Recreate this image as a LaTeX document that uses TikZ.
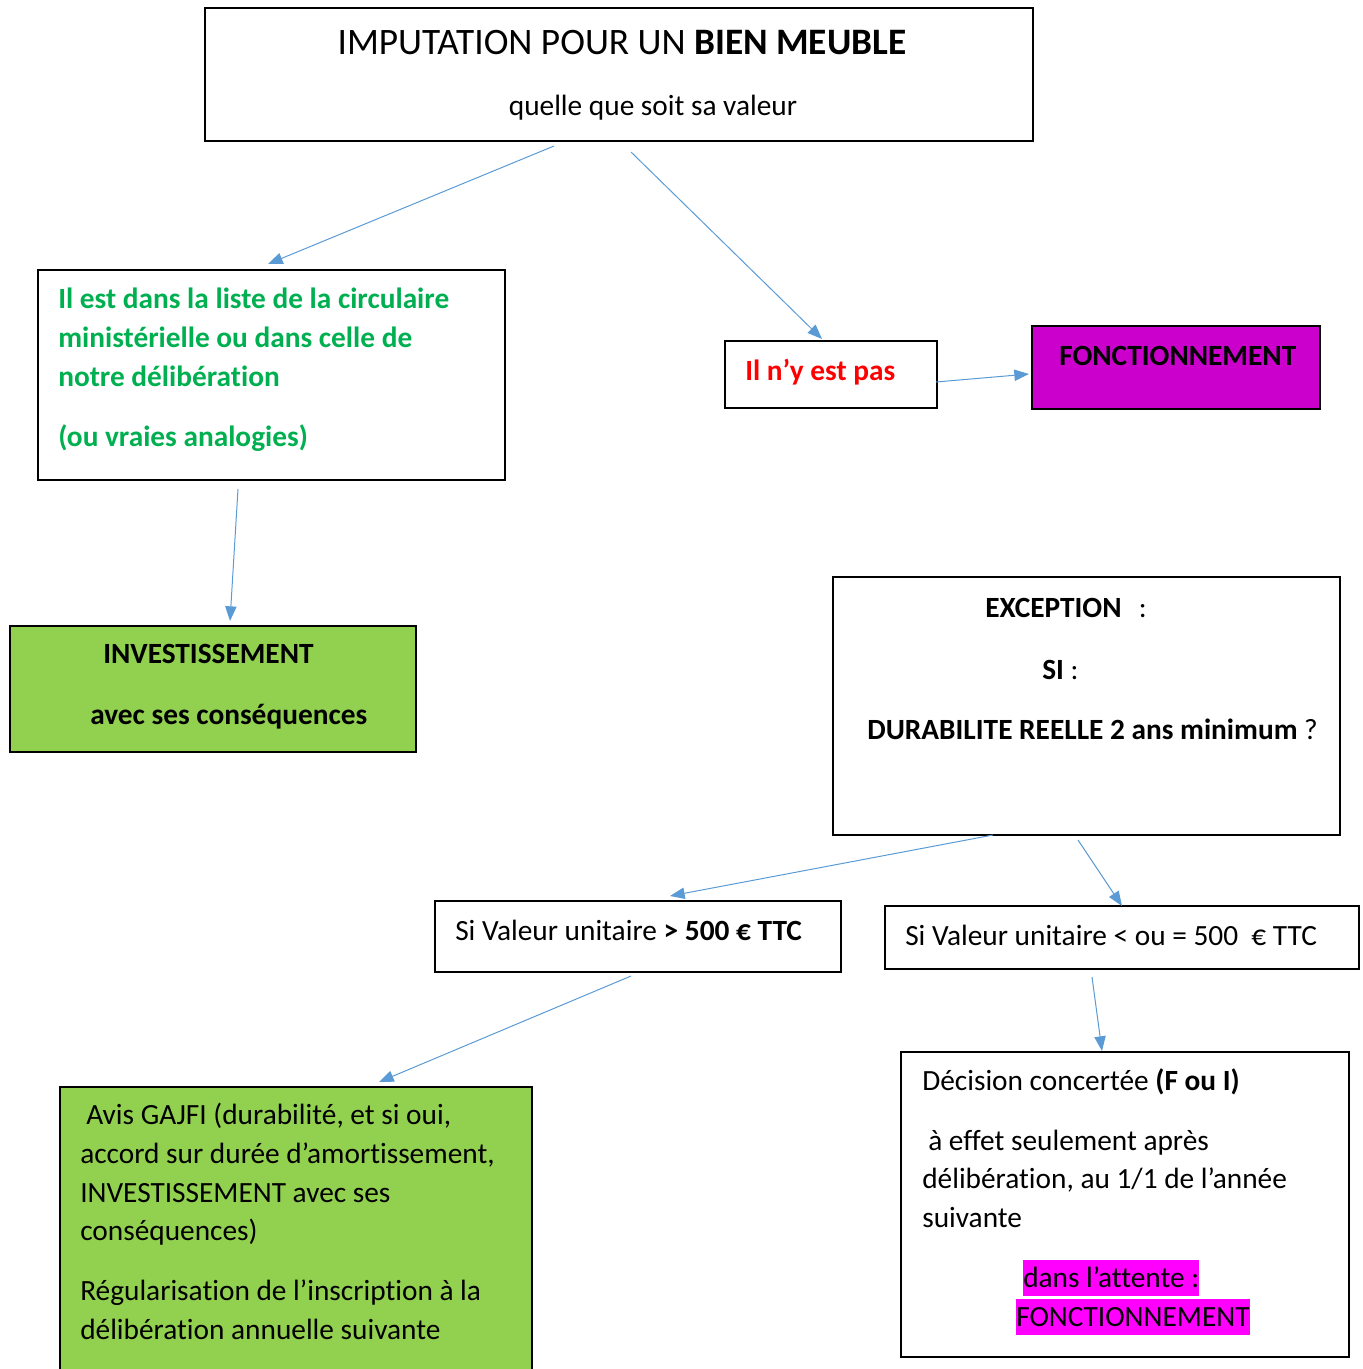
\documentclass[tikz,border=0pt]{standalone}
\usepackage{fontspec}
\setmainfont{Carlito}[Ligatures=NoCommon]
\usetikzlibrary{arrows.meta,fit}
\definecolor{arrblue}{HTML}{5B9BD5}
\definecolor{grn}{HTML}{00B050}
\definecolor{lgreen}{HTML}{92D050}
\definecolor{purp}{HTML}{CC00CC}
\definecolor{hilite}{HTML}{FF00FF}
\definecolor{redt}{HTML}{FF0000}
\tikzset{
  box/.style={draw=black, line width=0.9pt, inner sep=0pt},
  arr/.style={draw=arrblue, line width=0.75pt, -{Triangle[length=11pt,width=8.5pt]}},
  txt/.style={anchor=base west, inner sep=0pt, font=\fontsize{22}{27}\selectfont},
  btxt/.style={anchor=base west, inner sep=0pt, font=\fontsize{22}{27}\selectfont\bfseries},
  ctxt/.style={anchor=base, inner sep=0pt, font=\fontsize{22}{27}\selectfont},
  hl/.style={anchor=base west, inner sep=0pt, fill=hilite, text height=20.25pt, text depth=6.75pt, font=\fontsize{22}{27}\selectfont},
}
\begin{document}
\begin{tikzpicture}[x=0.75pt,y=-0.75pt]
\useasboundingbox (0,0) rectangle (1362,1369);
% boxes
\node[box, fit={(205,8) (1033,141)}] (top) {};
\node[box, fit={(38,270) (505,480)}] (liste) {};
\node[box, fit={(725,341) (937,408)}] (pas) {};
\node[box, fill=purp, fit={(1032,326) (1320,409)}] (fonct) {};
\node[box, fill=lgreen, fit={(10,626) (416,752)}] (invest) {};
\node[box, fit={(833,577) (1340,835)}] (exc) {};
\node[box, fit={(435,901) (841,972)}] (sup) {};
\node[box, fit={(885,906) (1359,969)}] (inf) {};
\node[box, fill=lgreen, fit={(60,1087) (532,1375)}] (avis) {};
\node[box, fit={(901,1052) (1349,1357)}] (decis) {};
% texts
\node[ctxt, font=\fontsize{28}{32}\selectfont] (t1) at (622,55) {IMPUTATION POUR UN \textbf{BIEN MEUBLE}};
\node[ctxt] (t2) at (653,116) {quelle que soit sa valeur};
\node[btxt, text=grn] (g1) at (58,309) {Il est dans la liste de la circulaire};
\node[btxt, text=grn] (g2) at (58,347) {ministérielle ou dans celle de};
\node[btxt, text=grn] (g3) at (58,386) {notre délibération};
\node[btxt, text=grn] (g4) at (58,446) {(ou vraies analogies)};
\node[btxt, text=redt] (p1) at (745,380) {Il n’y est pas};
\node[btxt] (f1) at (1059,365) {FONCTIONNEMENT};
\node[btxt] (i1) at (103,663) {INVESTISSEMENT};
\node[btxt] (i2) at (90,724) {avec ses conséquences};
\node[txt] (e1) at (985,617) {\textbf{EXCEPTION}\hspace{13pt}:};
\node[txt] (e2) at (1042,679) {\textbf{SI} :};
\node[txt] (e3) at (867,739) {\textbf{DURABILITE REELLE 2 ans minimum} ?};
\node[txt] (s1) at (455,940) {Si Valeur unitaire \textbf{> 500 € TTC}};
\node[txt] (s2) at (905,945) {Si Valeur unitaire < ou = 500\ \ € TTC};
\node[txt] (a1) at (86,1124) {Avis GAJFI (durabilité, et si oui,};
\node[txt] (a2) at (80,1163) {accord sur durée d’amortissement,};
\node[txt] (a3) at (80,1202) {INVESTISSEMENT avec ses};
\node[txt] (a4) at (80,1240) {conséquences)};
\node[txt] (a5) at (80,1300) {Régularisation de l’inscription à la};
\node[txt] (a6) at (80,1339) {délibération annuelle suivante};
\node[txt] (d1) at (922,1090) {Décision concertée \textbf{(F ou I)}};
\node[txt] (d2) at (928,1150) {à effet seulement après};
\node[txt] (d3) at (922,1188) {délibération, au 1/1 de l’année};
\node[txt] (d4) at (922,1227) {suivante};
\node[hl] (d5) at (1023,1287) {dans l’attente :};
\node[hl] (d6) at (1016,1326) {FONCTIONNEMENT};
% connector end points
\coordinate (a-s) at (554,146); \coordinate (a-e) at (268,264);
\coordinate (b-s) at (631,152); \coordinate (b-e) at (822,339);
\coordinate (c-s) at (936,382); \coordinate (c-e) at (1029,374);
\coordinate (d-s) at (238,489); \coordinate (d-e) at (230,621);
\coordinate (e-s) at (993,835); \coordinate (e-e) at (670,896);
\coordinate (f-s) at (1078,840); \coordinate (f-e) at (1122,906);
\coordinate (g-s) at (631,976); \coordinate (g-e) at (379,1082);
\coordinate (h-s) at (1092,977); \coordinate (h-e) at (1102,1051);
\draw[arr] (a-s) -- (a-e);
\draw[arr] (b-s) -- (b-e);
\draw[arr] (c-s) -- (c-e);
\draw[arr] (d-s) -- (d-e);
\draw[arr] (e-s) -- (e-e);
\draw[arr] (f-s) -- (f-e);
\draw[arr] (g-s) -- (g-e);
\draw[arr] (h-s) -- (h-e);
\end{tikzpicture}
\end{document}
